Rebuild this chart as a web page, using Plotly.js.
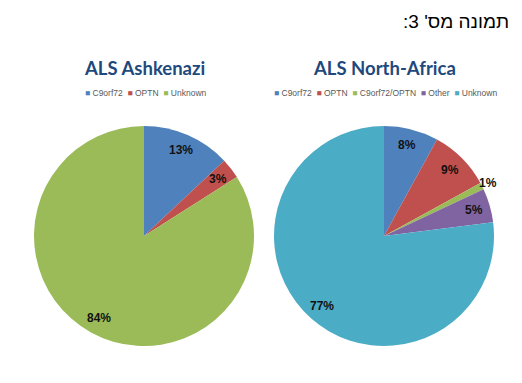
<!DOCTYPE html>
<html>
<head>
<meta charset="utf-8">
<script src="https://cdn.plot.ly/plotly-3.0.1.min.js"></script>
<style>html,body{margin:0;padding:0;background:#fff;}</style>
</head>
<body>
<div id="chart" style="width:522px;height:383px;"></div>
<script>
// Data
const ashCategories = ["C9orf72", "OPTN", "Unknown"];
const ashValues = [13, 3, 84];
const naCategories = ["C9orf72", "OPTN", "C9orf72/OPTN", "Other", "Unknown"];
const naValues = [8, 9, 1, 5, 77];
const titleLeft = "ALS Ashkenazi";
const titleRight = "ALS North-Africa";
const header = "\u202Bתמונה מס' 3:\u202C";

const colorMap = {
  "C9orf72": "#4F81BD",
  "OPTN": "#C0504D",
  "C9orf72/OPTN": "#9BBB59",
  "Other": "#8064A2",
  "Unknown": "#4BACC6"
};
const ashColors = ["#4F81BD", "#C0504D", "#9BBB59"];
const naColors = naCategories.map(c => colorMap[c]);

const W = 522, H = 383;
// pie geometry (pixels)
const R = 110, CY = 236;
const leftC = 144, rightC = 384;
const leftDomain = {x: [(leftC - R) / W, (leftC + R) / W], y: [1 - (CY + R) / H, 1 - (CY - R) / H]};
const rightDomain = {x: [(rightC - R) / W, (rightC + R) / W], y: [1 - (CY + R) / H, 1 - (CY - R) / H]};

const labelFont = {family: "Arial, Liberation Sans, sans-serif", size: 12, color: "#111111"};

function pieTrace(cats, vals, colors, domain) {
  return {
    type: "pie",
    labels: cats,
    values: vals,
    marker: {colors: colors, line: {width: 0}},
    domain: domain,
    sort: false,
    direction: "clockwise",
    rotation: 0,
    textinfo: "none",
    hoverinfo: "label+value",
    showlegend: false
  };
}

// data labels placed Excel-style (~0.85 of radius at each slice's mid angle)
function dataLabels(vals, cx) {
  const total = vals.reduce((a, b) => a + b, 0);
  let cum = 0;
  return vals.map(v => {
    const mid = (cum + v / 2) / total * 2 * Math.PI;
    cum += v;
    const f = (v / total < 0.02) ? 1.06 : 0.85;
    const px = cx + f * R * Math.sin(mid);
    const py = CY - f * R * Math.cos(mid);
    return {
      text: "<b>" + v + "%</b>", xref: "paper", yref: "paper",
      x: px / W, y: 1 - py / H, xanchor: "center", yanchor: "middle",
      showarrow: false, font: labelFont
    };
  });
}

function legendText(cats, colors) {
  return cats.map((c, i) =>
    '<span style="color:' + colors[i] + '">■</span> ' + c
  ).join("&nbsp;&nbsp;");
}

const data = [
  pieTrace(ashCategories, ashValues, ashColors, leftDomain),
  pieTrace(naCategories, naValues, naColors, rightDomain)
];

const legendFont = {family: "Arial, Liberation Sans, sans-serif", size: 8.5, color: "#595959"};
const titleFont = {family: "Lato, Open Sans, sans-serif", size: 18.5, color: "#1F497D"};

const layout = {
  width: W, height: H,
  margin: {l: 0, r: 0, t: 0, b: 0},
  paper_bgcolor: "#ffffff",
  plot_bgcolor: "#ffffff",
  showlegend: false,
  annotations: [
    {text: header, xref: "paper", yref: "paper", x: 511 / W, y: 1 - 22 / H,
     xanchor: "right", yanchor: "middle", showarrow: false,
     font: {family: "Arial, Liberation Sans, sans-serif", size: 19, color: "#000000"}},
    {text: "<b>" + titleLeft + "</b>", xref: "paper", yref: "paper", x: 144.5 / W, y: 1 - 68 / H,
     xanchor: "center", yanchor: "middle", showarrow: false, font: titleFont},
    {text: "<b>" + titleRight + "</b>", xref: "paper", yref: "paper", x: 384 / W, y: 1 - 68 / H,
     xanchor: "center", yanchor: "middle", showarrow: false, font: titleFont},
    {text: legendText(ashCategories, ashColors), xref: "paper", yref: "paper", x: 145.5 / W, y: 1 - 93 / H,
     xanchor: "center", yanchor: "middle", showarrow: false, font: legendFont},
    {text: legendText(naCategories, naColors), xref: "paper", yref: "paper", x: 385.5 / W, y: 1 - 93 / H,
     xanchor: "center", yanchor: "middle", showarrow: false, font: legendFont}
  ].concat(dataLabels(ashValues, leftC), dataLabels(naValues, rightC))
};

Plotly.newPlot("chart", data, layout, {staticPlot: true, displayModeBar: false});
</script>
</body>
</html>
